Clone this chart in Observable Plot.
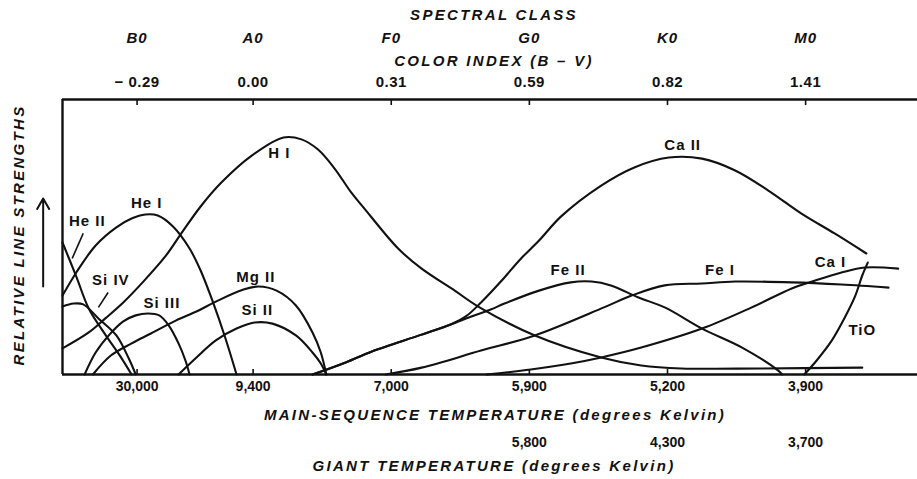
<!DOCTYPE html>
<html>
<head>
<meta charset="utf-8">
<script src="https://cdn.jsdelivr.net/npm/d3@7"></script>
<script src="https://cdn.jsdelivr.net/npm/@observablehq/plot@0.6"></script>
<style>
  html, body { margin: 0; padding: 0; background: #fff; }
</style>
</head>
<body>
<div id="chart"></div>
<script>
// ---- tick categories and labels (x position in spectral-class units, A0 = 1) ----
const classes    = ["B0", "A0", "F0", "G0", "K0", "M0"];
const classPos   = [0.16, 1, 2, 3, 4, 5];
const colorIndex = ["− 0.29", "0.00", "0.31", "0.59", "0.82", "1.41"];
const msTemp     = ["30,000", "9,400", "7,000", "5,900", "5,200", "3,900"];
const giantPos   = [3, 4, 5];
const giantTemp  = ["5,800", "4,300", "3,700"];

// ---- axis titles ----
const titleSpectral = "SPECTRAL CLASS";
const titleColor    = "COLOR INDEX (B – V)";
const titleMain     = "MAIN-SEQUENCE TEMPERATURE (degrees Kelvin)";
const titleGiant    = "GIANT TEMPERATURE (degrees Kelvin)";
const titleY        = "RELATIVE LINE STRENGTHS";

// ---- line strength curves: [spectral position, relative strength 0..100] ----
const HeII  = [[-0.38,48.0],[-0.28,35.6],[-0.19,24.0],[-0.07,14.5],[0.04,6.5],[0.12,0]];
const SiIV  = [[-0.38,24.7],[-0.30,25.8],[-0.23,25.5],[-0.12,20.4],[0.01,14.2],[0.10,5.8],[0.15,0]];
const HeI   = [[-0.38,28.7],[-0.28,37.1],[-0.14,46.9],[0.01,53.5],[0.12,56.7],[0.22,58.2],[0.31,57.8],[0.42,53.8],[0.54,45.8],[0.62,37.8],[0.71,26.2],[0.80,13.1],[0.88,0]];
const HI    = [[-0.38,9.5],[-0.19,15.3],[-0.07,20.4],[0.06,26.2],[0.20,33.5],[0.37,43.3],[0.48,51.3],[0.62,61.1],[0.77,69.8],[0.99,79.6],[1.22,86.2],[1.35,85.5],[1.47,81.8],[1.59,74.9],[1.71,66.2],[1.80,60.7],[2.05,45.8],[2.22,38.5],[2.46,30.5],[2.63,24.7],[3.04,14.2],[3.52,6.2],[3.81,3.3],[4.10,2.2],[4.68,2.2],[5.41,2.5]];
const SiIII = [[-0.22,0],[-0.14,8.0],[-0.04,14.5],[0.06,19.3],[0.15,21.5],[0.24,22.2],[0.32,21.5],[0.39,17.8],[0.46,11.3],[0.51,5.1],[0.54,0]];
const MgII  = [[-0.16,0],[-0.03,6.9],[0.12,11.3],[0.26,14.9],[0.44,19.6],[0.59,22.9],[0.73,26.5],[0.93,30.9],[1.04,32.0],[1.17,30.5],[1.31,25.1],[1.43,15.3],[1.49,8.0],[1.53,0]];
const SiII  = [[0.46,0],[0.59,6.2],[0.73,12.4],[0.88,16.7],[1.01,18.9],[1.14,18.5],[1.31,14.2],[1.43,8.0],[1.49,4.0],[1.53,0]];
const CaII  = [[1.43,0],[1.67,4.4],[1.86,8.4],[2.22,14.5],[2.43,18.2],[2.54,21.1],[2.65,26.2],[2.80,34.2],[2.94,42.2],[3.07,48.7],[3.23,57.5],[3.52,68.7],[3.76,75.3],[4.01,78.9],[4.25,78.5],[4.49,74.2],[4.73,66.9],[4.97,58.5],[5.21,51.3],[5.44,44.0]];
const FeII  = [[1.43,0],[1.67,4.4],[1.86,8.4],[2.22,14.5],[2.43,18.2],[2.58,21.1],[2.72,23.6],[2.82,25.8],[3.07,30.5],[3.30,33.5],[3.45,33.8],[3.59,32.4],[3.79,28.0],[3.98,24.4],[4.25,16.7],[4.54,9.8],[4.80,1.5],[4.83,0]];
const FeI   = [[1.96,0],[2.22,2.5],[2.65,8.7],[3.04,14.2],[3.54,24.4],[3.74,28.7],[3.98,32.4],[4.25,33.1],[4.49,33.8],[4.90,33.5],[5.26,32.7],[5.60,31.6]];
const CaI   = [[2.69,0],[3.01,1.8],[3.30,4.0],[3.52,6.2],[3.81,9.8],[4.25,16.7],[4.61,24.4],[4.90,31.3],[5.07,34.2],[5.26,37.1],[5.43,38.9],[5.67,38.5]];
const TiO   = [[4.99,0],[5.08,5.1],[5.19,12.4],[5.28,20.4],[5.36,28.7],[5.41,36.0],[5.45,40.7]];

// ---- curve labels ----
const labelNames = ["He II", "He I", "Si IV", "Si III", "H I", "Mg II", "Si II", "Fe II", "Ca II", "Fe I", "Ca I", "TiO"];
const labelX     = [-0.20, 0.23, -0.03, 0.34, 1.19, 1.02, 1.03, 3.28, 4.11, 4.38, 5.18, 5.41];
const labelY     = [55.6, 62.2, 34.2, 25.8, 80.4, 35.3, 23.3, 37.8, 83.3, 37.8, 40.7, 16.0];

// leader lines from labels to curves
const leaders = [
  {x1: -0.23, y1: 51.3, x2: -0.31, y2: 42.2},
  {x1: -0.05, y1: 29.8, x2: -0.12, y2: 24.4}
];
// the "increasing strength" arrow beside the y title
const strengthArrow = [{x: -0.52, y1: 32, y2: 64}];

const curves = {"He II": HeII, "Si IV": SiIV, "He I": HeI, "H I": HI, "Si III": SiIII, "Mg II": MgII,
                "Si II": SiII, "Ca II": CaII, "Fe II": FeII, "Fe I": FeI, "Ca I": CaI, "TiO": TiO};
const rows = Object.entries(curves).flatMap(([name, pts]) => pts.map(([x, y]) => ({name, x, y})));
const labels = labelNames.map((t, i) => ({t, x: labelX[i], y: labelY[i]}));
const classRows = classes.map((c, i) => ({c, x: classPos[i], ci: colorIndex[i], ms: msTemp[i]}));
const giantRows = giantTemp.map((g, i) => ({g, x: giantPos[i]}));

const ink = "#111";
const font = "'Liberation Sans', Arial, Helvetica, sans-serif";
const T = {fontWeight: "bold", fill: ink, lineAnchor: "middle", textAnchor: "middle"};
const TI = {...T, fontStyle: "italic"};

const chart = Plot.plot({
  width: 917,
  height: 479,
  marginLeft: 62,
  marginRight: 0,
  marginTop: 99,
  marginBottom: 105,
  x: {domain: [-0.38, 5.81], axis: null},
  y: {domain: [0, 100], axis: null},
  style: {fontFamily: font, background: "#fff", color: ink},
  marks: [
    // frame: top, bottom, left
    Plot.ruleY([100], {stroke: ink, strokeWidth: 2.4}),
    Plot.ruleY([0], {stroke: ink, strokeWidth: 2.6}),
    Plot.ruleX([-0.38], {stroke: ink, strokeWidth: 2.4}),
    // tick marks
    Plot.ruleX(classPos, {y1: 100, y2: 97.8, stroke: ink, strokeWidth: 1.6}),
    Plot.ruleX(classPos, {y1: 0, y2: 1.8, stroke: ink, strokeWidth: 1.6}),
    // curves
    Plot.line(rows, {x: "x", y: "y", z: "name", curve: "catmull-rom", stroke: ink, strokeWidth: 2.1}),
    Plot.link(leaders, {x1: "x1", y1: "y1", x2: "x2", y2: "y2", stroke: ink, strokeWidth: 1.6}),
    Plot.text(labels, {x: "x", y: "y", text: "t", fontSize: 15, ...T}),
    // top axes
    Plot.text([titleSpectral], {frameAnchor: "top", dy: -84, dx: 4, fontSize: 15, ...TI}),
    Plot.text(classRows, {x: "x", text: "c", frameAnchor: "top", dy: -61, fontSize: 15, ...TI}),
    Plot.text([titleColor], {frameAnchor: "top", dy: -38, dx: 4, fontSize: 15, ...TI}),
    Plot.text(classRows, {x: "x", text: "ci", frameAnchor: "top", dy: -17, fontSize: 15, ...T}),
    // bottom axes
    Plot.text(classRows, {x: "x", text: "ms", frameAnchor: "bottom", dy: 12, fontSize: 14, ...T}),
    Plot.text([titleMain], {frameAnchor: "bottom", dy: 41, dx: 5, fontSize: 15, ...TI}),
    Plot.text(giantRows, {x: "x", text: "g", frameAnchor: "bottom", dy: 68, fontSize: 14, ...T}),
    Plot.text([titleGiant], {frameAnchor: "bottom", dy: 92, dx: 4, fontSize: 15, ...TI}),
    // y title and arrow
    Plot.text([titleY], {frameAnchor: "left", dx: -43, dy: -2, rotate: -90, fontSize: 15, ...TI}),
    Plot.arrow(strengthArrow, {x: "x", y1: "y1", y2: "y2", stroke: ink, strokeWidth: 2, headLength: 9})
  ]
});

// letter spacing (tracking) to match the typeset original
const tracking = new Map();
[titleSpectral, titleColor, titleMain, titleGiant, titleY].forEach(t => tracking.set(t, "2.3px"));
classes.forEach(t => tracking.set(t, "1px"));
colorIndex.forEach(t => tracking.set(t, "0.5px"));
labelNames.forEach(t => tracking.set(t, "1px"));
d3.select(chart).selectAll("text").each(function () {
  const s = tracking.get(this.textContent);
  if (s) this.style.letterSpacing = s;
});

document.getElementById("chart").appendChild(chart);
</script>
</body>
</html>
